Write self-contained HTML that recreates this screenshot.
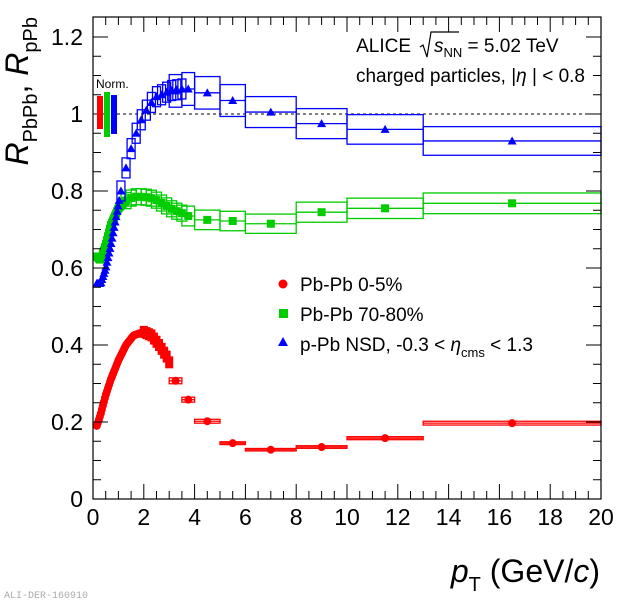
<!DOCTYPE html>
<html><head><meta charset="utf-8"><style>
html,body{margin:0;padding:0;background:#fff;}
svg{display:block;font-family:"Liberation Sans",sans-serif;}
</style></head><body>
<svg id="s" width="620" height="603" viewBox="0 0 620 603" xmlns="http://www.w3.org/2000/svg">
<rect width="620" height="603" fill="#fff"/>
<g id="plot"></g>
<rect x="93" y="17" width="508" height="482" fill="none" stroke="#000" stroke-width="1.2"/>
<g id="ticks" stroke="#000" stroke-width="1"></g>
<g font-size="23" text-anchor="end" id="yl"></g>
<g font-size="23" text-anchor="middle" id="xl"></g>
<text x="28" y="17" font-size="32" font-style="italic" transform="rotate(-90 28 17)" text-anchor="end">R<tspan font-size="20" font-style="normal" dy="9">PbPb</tspan><tspan dy="-9" font-style="normal">, </tspan>R<tspan font-size="20" font-style="normal" dy="9">pPb</tspan></text>
<text x="600" y="582" font-size="32" text-anchor="end"><tspan font-style="italic">p</tspan><tspan font-size="20" dy="9">T</tspan><tspan dy="-9"> (GeV/</tspan><tspan font-style="italic">c</tspan>)</text>
<text x="4" y="598" font-size="10" fill="#aaa" font-family="Liberation Mono,monospace">ALI-DER-160910</text>
<text x="411" y="52" font-size="19" text-anchor="end">ALICE</text>
<path d="M420 47 l3 -2 l4 12 l4 -25 h28" fill="none" stroke="#000" stroke-width="1.2"/>
<text x="434" y="52" font-size="19"><tspan font-style="italic">s</tspan><tspan font-size="13" dy="5">NN</tspan><tspan dy="-5"> = 5.02 TeV</tspan></text>
<text x="585" y="82" font-size="19" text-anchor="end">charged particles, |<tspan font-style="italic">η</tspan> | &lt; 0.8</text>
<text x="96" y="88" font-size="12">Norm.</text>
<rect x="97" y="96" width="6" height="33" fill="#f00"/>
<rect x="104" y="92" width="6" height="45" fill="#0c0"/>
<rect x="111" y="95" width="6" height="39" fill="#00f"/>
<circle cx="283" cy="284" r="4.5" fill="#f00"/>
<rect x="279" y="309" width="9" height="9" fill="#0c0"/>
<path d="M283 337 l5 9 h-10z" fill="#00f"/>
<text x="300" y="291" font-size="19">Pb-Pb 0-5%</text>
<text x="300" y="321" font-size="19">Pb-Pb 70-80%</text>
<text x="300" y="351" font-size="19">p-Pb NSD, -0.3 &lt; <tspan font-style="italic">η</tspan><tspan font-size="13" dy="6">cms</tspan><tspan dy="-6"> &lt; 1.3</tspan></text>
</svg>
<script>
const X=p=>93+p*25.4, Y=v=>499-v*385;
const NS="http://www.w3.org/2000/svg";
function el(t,a,par){const e=document.createElementNS(NS,t);for(const k in a)e.setAttribute(k,a[k]);(par||document.getElementById('plot')).appendChild(e);return e;}
const tg=document.getElementById('ticks');
for(let p=0;p<=20.001;p+=0.5){const maj=Math.abs(p/2-Math.round(p/2))<1e-6;const l=maj?15:8;
 el('line',{x1:X(p),x2:X(p),y1:499,y2:499-l},tg);el('line',{x1:X(p),x2:X(p),y1:17,y2:17+l},tg);
 if(maj)el('text',{x:X(p),y:525},document.getElementById('xl')).textContent=Math.round(p);}
for(let v=0;v<=1.25;v+=0.05){const maj=Math.abs(v/0.2-Math.round(v/0.2))<1e-6;const l=maj?15:8;const y=Y(v);if(y<17)continue;
 el('line',{x1:93,x2:93+l,y1:y,y2:y},tg);el('line',{x1:601,x2:601-l,y1:y,y2:y},tg);
 if(maj)el('text',{x:83,y:y+8},document.getElementById('yl')).textContent=(Math.round(v*10)/10).toString();}
el('line',{x1:93,x2:601,y1:Y(1),y2:Y(1),stroke:'#000','stroke-dasharray':'3,3','stroke-width':1});
function interp(pts,x){for(let i=0;i<pts.length-1;i++){if(x<=pts[i+1][0]){const t=(x-pts[i][0])/(pts[i+1][0]-pts[i][0]);return pts[i][1]+t*(pts[i+1][1]-pts[i][1]);}}return pts[pts.length-1][1];}
const red=[[0.15,0.19],[0.3,0.22],[0.5,0.27],[0.7,0.31],[1.0,0.36],[1.3,0.40],[1.6,0.425],[2.0,0.434],[2.3,0.425],[2.6,0.40],[2.9,0.37],[3.1,0.34]];
const grn=[[0.15,0.63],[0.3,0.62],[0.5,0.66],[0.7,0.71],[1.0,0.755],[1.3,0.775],[1.6,0.785],[2.0,0.785],[2.4,0.78],[2.8,0.765],[3.2,0.75],[3.6,0.74]];
const blu=[[0.15,0.56],[0.3,0.56],[0.5,0.6],[0.7,0.66],[0.9,0.73],[1.1,0.8],[1.3,0.86],[1.5,0.91],[1.7,0.95],[1.9,0.985],[2.1,1.01],[2.3,1.03],[2.5,1.045],[2.7,1.05],[3.0,1.06],[3.5,1.065]];
function mark(x,y,col,s){if(s==0)el('circle',{cx:x,cy:y,r:4,fill:col});else if(s==1)el('rect',{x:x-4,y:y-4,width:8,height:8,fill:col});else el('path',{d:`M${x} ${y-4.5} l4.5 8 h-9z`,fill:col});}
function low(pts,col,shape,step,maxp){for(let p=0.15;p<=maxp+1e-6;p+=step){mark(X(p),Y(interp(pts,p)),col,shape);}}
function hi(arr,col,s,rel){arr.forEach(([a,b,v])=>{const x1=X(a),x2=X(b),y=Y(v),h=v*rel*385;
 el('rect',{x:x1,y:y-h,width:x2-x1,height:2*h,fill:'none',stroke:col,'stroke-width':1.3});
 el('line',{x1:x1,x2:x2,y1:y,y2:y,stroke:col,'stroke-width':1.3});mark((x1+x2)/2,y,col,s);});}
low(red,'#f00',0,0.04,2.0);
for(let p=2.0;p<=3.05;p+=0.1){const v=interp(red,p);el('rect',{x:X(p)-4,y:Y(v)-6,width:8,height:12,fill:'#f00'});}
hi([[3,3.5,0.307],[3.5,4,0.258],[4,5,0.202],[5,6,0.145],[6,8,0.128],[8,10,0.135],[10,13,0.158],[13,20,0.197]],'#f00',0,0.025);
low(grn,'#0c0',1,0.04,1.3);
for(let p=1.3;p<=3.6;p+=0.2){const v=interp(grn,p);el('rect',{x:X(p)-5,y:Y(v)-8,width:10,height:16,fill:'none',stroke:'#0c0','stroke-width':1.3});mark(X(p),Y(v),'#0c0',1);}
hi([[3.5,4,0.735],[4,5,0.725],[5,6,0.722],[6,8,0.715],[8,10,0.745],[10,13,0.755],[13,20,0.768]],'#0c0',1,0.035);
low(blu,'#00f',2,0.04,1.05);
for(let p=1.1;p<=3.6;p+=0.2){const v=interp(blu,p);el('rect',{x:X(p)-4,y:Y(v)-10,width:8,height:20,fill:'none',stroke:'#00f','stroke-width':1.3});mark(X(p),Y(v),'#00f',2);}
hi([[3,3.5,1.06],[3.5,4,1.065],[4,5,1.055],[5,6,1.035],[6,8,1.005],[8,10,0.975],[10,13,0.96],[13,20,0.93]],'#00f',2,0.04);
</script>
</body></html>
